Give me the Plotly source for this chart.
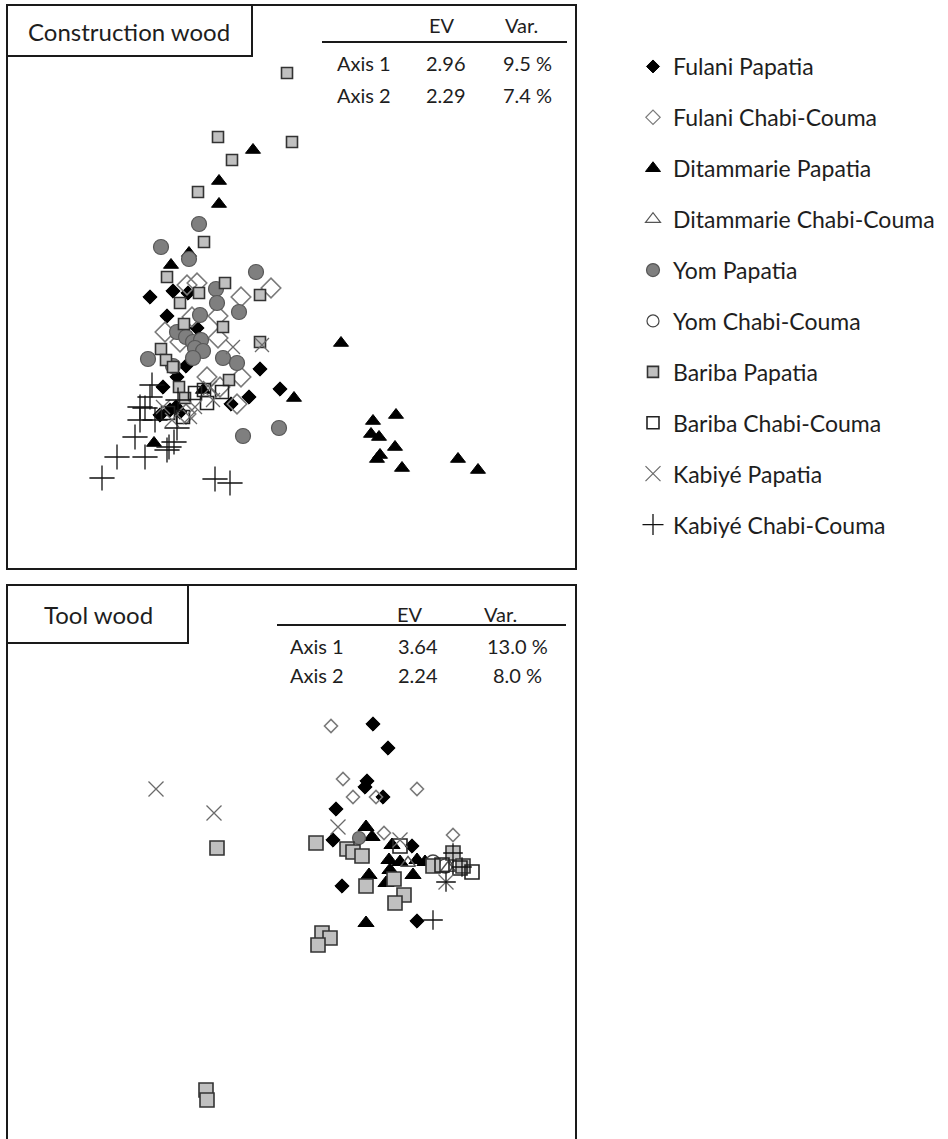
import plotly.graph_objects as go

W, H = 948, 1139
FONT = "Lato"

# ---------------- data: scores (arbitrary ordination units) ----------------
series_names = ["Fulani Papatia", "Fulani Chabi-Couma", "Ditammarie Papatia",
                "Ditammarie Chabi-Couma", "Yom Papatia", "Yom Chabi-Couma",
                "Bariba Papatia", "Bariba Chabi-Couma", "Kabiyé Papatia",
                "Kabiyé Chabi-Couma"]

# Construction wood (top panel)
cw_fulani_pap_x = [-50, -27, -12, -33, -3, -14, -23, -37, 60, 80, 49, 31, -30, -20, -40, -24]
cw_fulani_pap_y = [123, 129, 127, 104, 92, 54, 43, 33, 51, 31, 23, 16, 10, 8, 5, 13]
cw_fulani_cc_x = [-13, -3, 41, 71, 18, -8, -35, -20, 18, 7, 41, 20, 37, -14]
cw_fulani_cc_y = [135, 137, 123, 132, 104, 103, 88, 78, 82, 43, 43, 33, 16, 6]
cw_ditam_pap_x = [53, 19, 19, -11, -29, 94, -46, 141, 173, 196, 171, 179, 195, 180, 177, 202, 258, 278, 3]
cw_ditam_pap_y = [270, 239, 216, 167, 155, 22, -23, 77, -1, 5, -14, -17, -27, -35, -39, -48, -39, -50, 30]
cw_ditam_cc_x = []
cw_ditam_cc_y = []
cw_yom_pap_x = [-1, -39, -11, 56, 16, 17, 0, 39, -23, -14, -7, 1, -5, 3, -7, -52, 23, 37, -27, 79, 43]
cw_yom_pap_y = [196, 173, 161, 148, 131, 117, 105, 108, 88, 83, 78, 80, 72, 69, 62, 61, 62, 57, 54, -8, -16]
cw_yom_cc_x = []
cw_yom_cc_y = []
cw_bariba_pap_x = [87, 18, 92, 32, -2, 4, -33, 25, -1, 60, -20, -16, 23, 60, -39, -34, -27, 29, -21, -15]
cw_bariba_pap_y = [347, 283, 278, 260, 228, 178, 143, 137, 127, 125, 117, 96, 93, 78, 71, 60, 53, 40, 33, 22]
cw_bariba_cc_x = [4, 22, 7, -5, -32, -17]
cw_bariba_cc_y = [30, 28, 17, 27, 7, 3]
cw_kabiye_pap_x = [62, 33, 13, -5, -37, -10, -28, 10]
cw_kabiye_pap_y = [75, 73, 20, 13, 13, 3, 0, 32]
cw_kabiye_cc_x = [-98, -83, -65, -55, -31, -26, -60, -55, -23, 30, 15, -48, -60, -45, -33, -50, -22]
cw_kabiye_cc_y = [-58, -37, -17, -37, -27, -22, 0, 12, -8, -63, -59, 35, 13, 0, -30, 23, 20]

# Tool wood (bottom panel)
tw_fulani_pap_x = [-27, -12, -33, -35, -17, -64, -67, 12, -58, 17]
tw_fulani_pap_y = [126, 102, 69, 63, 53, 41, 10, 4, -36, -71]
tw_fulani_cc_x = [-69, -57, -47, -24, 17, -16, 53]
tw_fulani_cc_y = [124, 71, 53, 53, 61, 17, 15]
tw_ditam_pap_x = [-34, -28, -8, -11, 0, 17, -10, 13, -31, -34, -14, 25]
tw_ditam_pap_y = [23, 13, 5, -10, -12, -10, -20, -25, -25, -73, -33, -12]
tw_ditam_cc_x = [8, 48]
tw_ditam_cc_y = [-13, -18]
tw_yom_pap_x = [-41]
tw_yom_pap_y = [12]
tw_yom_cc_x = [33, 45]
tw_yom_cc_y = [-12, -16]
tw_bariba_pap_x = [-183, -84, -53, -47, -38, -6, -34, 4, -5, -78, -70, -82, -194, -193, 53, 63, 33]
tw_bariba_pap_y = [2, 7, 1, -2, -6, -29, -36, -45, -53, -83, -88, -95, -240, -250, -3, -16, -16]
tw_bariba_cc_x = [0, 72, 42, 60]
tw_bariba_cc_y = [4, -22, -15, -18]
tw_kabiye_pap_x = [-244, -186, -62, 0, 46]
tw_kabiye_pap_y = [61, 37, 23, 10, -32]
tw_kabiye_cc_x = [33, 46, 53, 62]
tw_kabiye_cc_y = [-70, -32, -3, -17]

cw_ev = ["2.96", "2.29"]
cw_var = ["9.5 %", "7.4 %"]
tw_ev = ["3.64", "2.24"]
tw_var = ["13.0 %", "8.0 %"]
axis_labels = ["Axis 1", "Axis 2"]

# ---------------- styles ----------------
styles = {
    "Fulani Papatia": dict(symbol="diamond", color="#000000", line=dict(color="#000000", width=1)),
    "Fulani Chabi-Couma": dict(symbol="diamond-open", color="#7a7a7a", line=dict(color="#7a7a7a", width=1.6)),
    "Ditammarie Papatia": dict(symbol="triangle-up", color="#000000", line=dict(color="#000000", width=1)),
    "Ditammarie Chabi-Couma": dict(symbol="triangle-up-open", color="#555555", line=dict(color="#555555", width=1.4)),
    "Yom Papatia": dict(symbol="circle", color="#7f7f7f", line=dict(color="#575757", width=1.2)),
    "Yom Chabi-Couma": dict(symbol="circle-open", color="#444444", line=dict(color="#444444", width=1.4)),
    "Bariba Papatia": dict(symbol="square", color="#c0c0c0", line=dict(color="#333333", width=1.6)),
    "Bariba Chabi-Couma": dict(symbol="square-open", color="#222222", line=dict(color="#222222", width=1.6)),
    "Kabiyé Papatia": dict(symbol="x-thin-open", color="#6a6a6a", line=dict(color="#6a6a6a", width=1.3)),
    "Kabiyé Chabi-Couma": dict(symbol="cross-thin-open", color="#111111", line=dict(color="#111111", width=1.3)),
}
size_top = {"Fulani Papatia": 11, "Fulani Chabi-Couma": 15, "Ditammarie Papatia": 13,
            "Ditammarie Chabi-Couma": 12, "Yom Papatia": 15, "Yom Chabi-Couma": 12,
            "Bariba Papatia": 11, "Bariba Chabi-Couma": 13, "Kabiyé Papatia": 14,
            "Kabiyé Chabi-Couma": 18}
size_bot = {"Fulani Papatia": 11, "Fulani Chabi-Couma": 10, "Ditammarie Papatia": 14,
            "Ditammarie Chabi-Couma": 13, "Yom Papatia": 13, "Yom Chabi-Couma": 14,
            "Bariba Papatia": 14, "Bariba Chabi-Couma": 14, "Kabiyé Papatia": 15,
            "Kabiyé Chabi-Couma": 14}
size_leg = {"Fulani Papatia": 10, "Fulani Chabi-Couma": 11, "Ditammarie Papatia": 13,
            "Ditammarie Chabi-Couma": 13, "Yom Papatia": 13, "Yom Chabi-Couma": 12,
            "Bariba Papatia": 11, "Bariba Chabi-Couma": 12, "Kabiyé Papatia": 15,
            "Kabiyé Chabi-Couma": 15}
leg_line = {"Fulani Chabi-Couma": "#333333", "Ditammarie Chabi-Couma": "#333333",
            "Yom Chabi-Couma": "#333333", "Kabiyé Papatia": "#555555"}

top_data = [(cw_fulani_pap_x, cw_fulani_pap_y), (cw_fulani_cc_x, cw_fulani_cc_y),
            (cw_ditam_pap_x, cw_ditam_pap_y), (cw_ditam_cc_x, cw_ditam_cc_y),
            (cw_yom_pap_x, cw_yom_pap_y), (cw_yom_cc_x, cw_yom_cc_y),
            (cw_bariba_pap_x, cw_bariba_pap_y), (cw_bariba_cc_x, cw_bariba_cc_y),
            (cw_kabiye_pap_x, cw_kabiye_pap_y), (cw_kabiye_cc_x, cw_kabiye_cc_y)]
bot_data = [(tw_fulani_pap_x, tw_fulani_pap_y), (tw_fulani_cc_x, tw_fulani_cc_y),
            (tw_ditam_pap_x, tw_ditam_pap_y), (tw_ditam_cc_x, tw_ditam_cc_y),
            (tw_yom_pap_x, tw_yom_pap_y), (tw_yom_cc_x, tw_yom_cc_y),
            (tw_bariba_pap_x, tw_bariba_pap_y), (tw_bariba_cc_x, tw_bariba_cc_y),
            (tw_kabiye_pap_x, tw_kabiye_pap_y), (tw_kabiye_cc_x, tw_kabiye_cc_y)]

fig = go.Figure()

def marker(name, size, legend=False):
    s = styles[name]
    line = dict(s["line"])
    if legend and name in leg_line:
        line["color"] = leg_line[name]
        line["width"] = 1.2
    return dict(symbol=s["symbol"], color=s["color"], size=size, line=line)

for name, (xs, ys) in zip(series_names, top_data):
    fig.add_trace(go.Scatter(x=xs, y=ys, mode="markers", marker=marker(name, size_top[name]),
                             xaxis="x", yaxis="y", showlegend=False, name=name,
                             legendgroup=name, hoverinfo="skip"))
for name, (xs, ys) in zip(series_names, bot_data):
    fig.add_trace(go.Scatter(x=xs, y=ys, mode="markers", marker=marker(name, size_bot[name]),
                             xaxis="x2", yaxis="y2", showlegend=False, name=name,
                             legendgroup=name, hoverinfo="skip"))
for name in series_names:
    fig.add_trace(go.Scatter(x=[None], y=[None], mode="markers", name=name,
                             marker=marker(name, size_leg[name], legend=True),
                             xaxis="x", yaxis="y", showlegend=True, legendgroup=name))

# ---------------- layout (pixel geometry) ----------------
def px(v):
    return v / W

def py(v):
    return 1 - v / H

TOP = dict(L=7, R=576, T=5, B=569, ox=200, oy=420)
BOT = dict(L=7, R=576, T=585, B=1139, ox=400, oy=850)

def axis_pair(p):
    xa = dict(domain=[px(p["L"]), px(p["R"])], range=[p["L"] - p["ox"], p["R"] - p["ox"]],
              visible=False, fixedrange=True)
    ya = dict(domain=[py(p["B"]), py(p["T"])], range=[p["oy"] - p["B"], p["oy"] - p["T"]],
              visible=False, fixedrange=True)
    return xa, ya

xa1, ya1 = axis_pair(TOP)
xa2, ya2 = axis_pair(BOT)
ya2["domain"] = [0, py(BOT["T"])]
xa2["anchor"] = "y2"
ya2["anchor"] = "x2"

FR = "#1a1a1a"
shapes = [
    dict(type="rect", xref="paper", yref="paper", x0=px(7), x1=px(576), y0=py(569), y1=py(5),
         line=dict(color=FR, width=2)),
    dict(type="rect", xref="paper", yref="paper", x0=px(7), x1=px(252), y0=py(56), y1=py(5),
         line=dict(color=FR, width=2)),
    dict(type="line", xref="paper", yref="paper", x0=px(322), x1=px(567), y0=py(42), y1=py(42),
         line=dict(color=FR, width=2)),
    dict(type="rect", xref="paper", yref="paper", x0=px(7), x1=px(576), y0=py(1160), y1=py(585),
         line=dict(color=FR, width=2)),
    dict(type="rect", xref="paper", yref="paper", x0=px(7), x1=px(188), y0=py(643), y1=py(585),
         line=dict(color=FR, width=2)),
    dict(type="line", xref="paper", yref="paper", x0=px(277), x1=px(566), y0=py(625), y1=py(625),
         line=dict(color=FR, width=2)),
]

TXT = "#1e1e1e"
def ann(text, x, y, size):
    return dict(text=text, x=px(x), y=py(y), xref="paper", yref="paper", showarrow=False,
                xanchor="center", yanchor="middle", font=dict(family=FONT, size=size, color=TXT))

annotations = [ann("Construction wood", 129, 31, 24), ann("Tool wood", 98, 614, 24),
               ann("EV", 442, 25, 20), ann("Var.", 521, 25, 20),
               ann("EV", 410, 614, 20), ann("Var.", 500, 614, 20)]
for i, (lab, ev, var) in enumerate(zip(axis_labels, cw_ev, cw_var)):
    yy = [63, 95][i]
    annotations += [ann(lab, 364, yy, 20), ann(ev, 446, yy, 20), ann(var, 527, yy, 20)]
for i, (lab, ev, var) in enumerate(zip(axis_labels, tw_ev, tw_var)):
    yy = [646, 675][i]
    annotations += [ann(lab, 317, yy, 20), ann(ev, 418, yy, 20), ann(var, 517, yy, 20)]

fig.update_layout(
    width=W, height=H, margin=dict(l=0, r=0, t=0, b=0),
    paper_bgcolor="white", plot_bgcolor="rgba(0,0,0,0)",
    xaxis=xa1, yaxis=ya1, xaxis2=xa2, yaxis2=ya2,
    shapes=shapes, annotations=annotations,
    legend=dict(x=px(633), y=py(45), xanchor="left", yanchor="top",
                font=dict(family=FONT, size=23, color=TXT), tracegroupgap=18,
                traceorder="grouped", itemsizing="trace", bgcolor="rgba(0,0,0,0)"),
    showlegend=True,
)

fig.write_html("out.html")
